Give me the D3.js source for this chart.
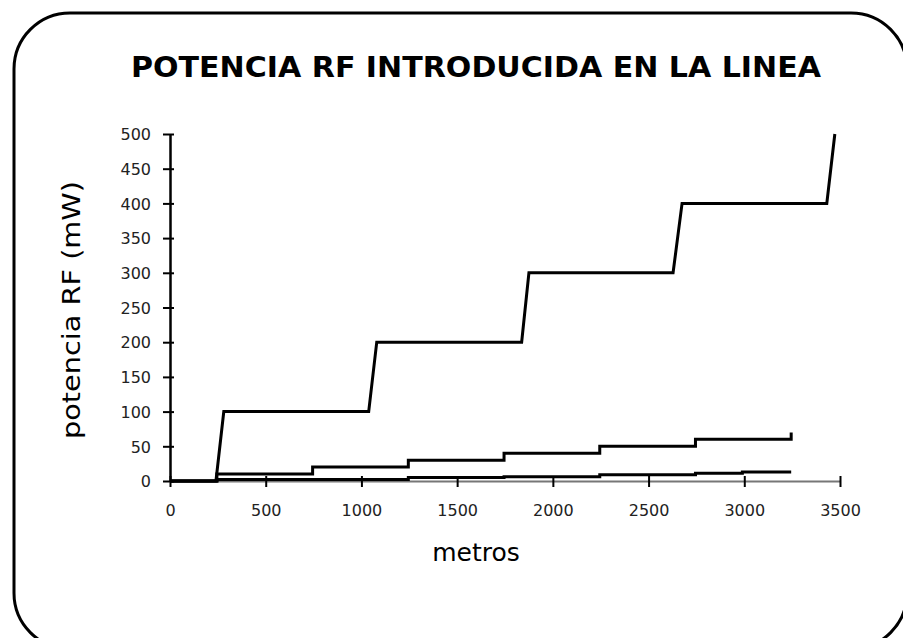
<!DOCTYPE html>
<html>
<head>
<meta charset="utf-8">
<script src="https://cdn.jsdelivr.net/npm/d3@7"></script>
<style>
  body { margin: 0; background: #fff; }
  svg { display: block; }
</style>
</head>
<body>
<script>
// chart data
var titulo = "POTENCIA RF INTRODUCIDA EN LA LINEA";
var xTicks = [0, 500, 1000, 1500, 2000, 2500, 3000, 3500];
var yTicks = [0, 50, 100, 150, 200, 250, 300, 350, 400, 450, 500];

// high power line (steps of 100 mW)
var metrosA = [0, 240, 281, 1038, 1080, 1837, 1875, 2628, 2675, 3431, 3473];
var potenciaA = [0, 0, 100, 100, 200, 200, 300, 300, 400, 400, 500];

// middle line (steps of 10 mW)
var metrosB = [0, 245, 245, 745, 745, 1245, 1245, 1745, 1745, 2245, 2245, 2745, 2745, 3245, 3245];
var potenciaB = [0, 0, 10, 10, 20, 20, 30, 30, 40, 40, 50, 50, 60, 60, 70];

// low line
var metrosC = [0, 245, 245, 1245, 1245, 1745, 1745, 2245, 2245, 2745, 2745, 2990, 2990, 3245];
var potenciaC = [0, 0, 2, 2, 5, 5, 6, 6, 9, 9, 11, 11, 13, 13];

window.onload = function() {

  var width = 903, height = 638;

  var svg = d3.select("body")
    .append("svg")
      .attr("width", width)
      .attr("height", height);

  // rounded frame, partly outside the window
  svg.append("rect")
    .attr("x", 14)
    .attr("y", 13)
    .attr("width", 893)
    .attr("height", 636)
    .attr("rx", 56)
    .attr("ry", 56)
    .attr("fill", "none")
    .attr("stroke", "#000")
    .attr("stroke-width", 3);

  const x = d3.scaleLinear()
    .domain([0, 3500])
    .range([170, 840]);

  const y = d3.scaleLinear()
    .domain([0, 500])
    .range([481, 134]);

  // title
  svg.append("text")
    .attr("x", 476)
    .attr("y", 77)
    .attr("text-anchor", "middle")
    .attr("textLength", 690)
    .attr("lengthAdjust", "spacingAndGlyphs")
    .style("font-family", "DejaVu Sans")
    .style("font-weight", "bold")
    .style("font-size", "29px")
    .text(titulo);

  // x axis
  const xAxis = d3.axisBottom(x).tickValues(xTicks).tickSize(0).tickPadding(0).tickFormat(d3.format("d"));
  const gx = svg.append("g")
    .attr("transform", "translate(0," + y(0) + ")")
    .call(xAxis);
  gx.select(".domain").attr("stroke", "#777").attr("stroke-width", 2);
  gx.selectAll(".tick line")
    .attr("y1", -5)
    .attr("y2", 6)
    .attr("stroke", "#000")
    .attr("stroke-width", 2);
  gx.selectAll(".tick text")
    .attr("y", 35)
    .attr("dy", 0)
    .attr("fill", "#222")
    .style("font-family", "DejaVu Sans")
    .style("font-size", "16px");

  // y axis
  const yAxis = d3.axisLeft(y).tickValues(yTicks).tickSize(0).tickPadding(0);
  const gy = svg.append("g")
    .attr("transform", "translate(" + x(0) + ",0)")
    .call(yAxis);
  gy.select(".domain").attr("stroke", "#000").attr("stroke-width", 2.5);
  gy.selectAll(".tick line")
    .attr("x1", -7)
    .attr("x2", 4)
    .attr("stroke", "#000")
    .attr("stroke-width", 2);
  gy.selectAll(".tick text")
    .attr("x", -19)
    .attr("dy", "0.36em")
    .attr("fill", "#222")
    .style("font-family", "DejaVu Sans")
    .style("font-size", "16px");

  // axis titles
  svg.append("text")
    .attr("transform", "translate(80,310) rotate(-90)")
    .attr("text-anchor", "middle")
    .attr("textLength", 258)
    .attr("lengthAdjust", "spacingAndGlyphs")
    .style("font-family", "DejaVu Sans")
    .style("font-size", "25px")
    .text("potencia RF (mW)");

  svg.append("text")
    .attr("x", 476)
    .attr("y", 561)
    .attr("text-anchor", "middle")
    .style("font-family", "DejaVu Sans")
    .style("font-size", "25px")
    .text("metros");

  // the three lines
  const line = d3.line()
    .x(d => x(d[0]))
    .y(d => y(d[1]));

  var series = [
    d3.zip(metrosC, potenciaC),
    d3.zip(metrosB, potenciaB),
    d3.zip(metrosA, potenciaA)
  ];

  svg.selectAll(".serie")
    .data(series).enter()
    .append("path")
    .attr("class", "serie")
    .attr("fill", "none")
    .attr("stroke", "#000")
    .attr("stroke-width", 3)
    .attr("stroke-linejoin", "miter")
    .attr("d", line);
};
</script>
</body>
</html>
